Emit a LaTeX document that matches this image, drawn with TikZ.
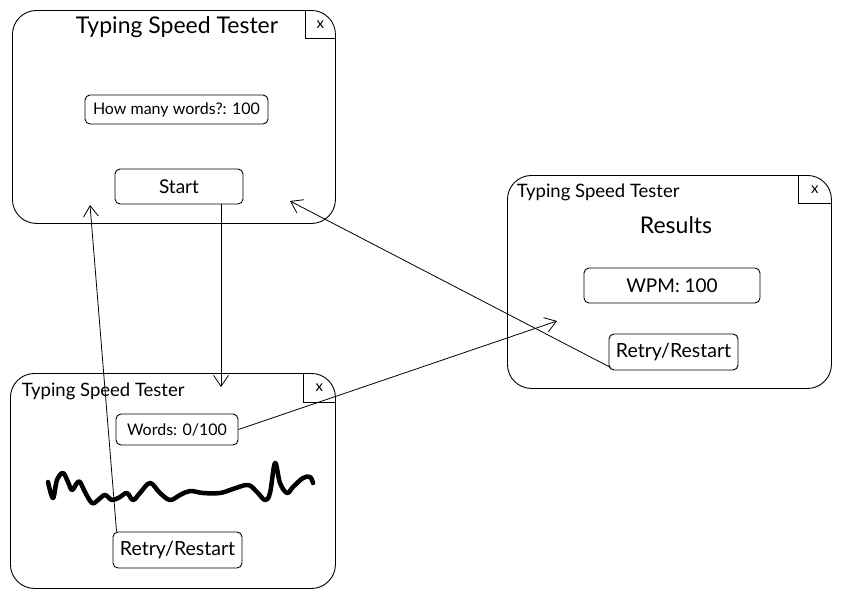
\documentclass[tikz,border=0pt]{standalone}
\usepackage{fontspec}
\setmainfont{Lato}
\usetikzlibrary{positioning,arrows.meta}

\begin{document}
\begin{tikzpicture}[x=1pt,y=-1pt,
		  line width=0.9pt,
		  win/.style={draw,rounded corners=24pt,anchor=north west,inner sep=0pt},
		  field/.style={draw,rounded corners=5pt,inner sep=0pt,font=\fontsize{16}{18}\selectfont},
		  closebox/.style={anchor=north east,inner sep=0pt,font=\fontsize{15}{17}\selectfont},
		  flow/.style={-{Straight Barb[length=11pt,width=15pt]},line width=0.8pt}
		]
		\useasboundingbox[fill=white] (0,0) rectangle (841,598);
		% windows
		\node[win,minimum width=323pt,minimum height=213pt] (winA) at (12,10) {};
		\node[win,minimum width=324pt,minimum height=213pt] (winB) at (507,175) {};
		\node[win,minimum width=325pt,minimum height=215pt] (winC) at (10,373) {};
		\node[closebox,minimum width=30pt,minimum height=28pt] (closeA) at (winA.north east) {x};
		\node[closebox,minimum width=33pt,minimum height=28pt] (closeB) at (winB.north east) {x};
		\node[closebox,minimum width=32pt,minimum height=29pt] (closeC) at (winC.north east) {x};
		\draw (closeA.north west) |- (closeA.south east);
		\draw (closeB.north west) |- (closeB.south east);
		\draw (closeC.north west) |- (closeC.south east);
		% titles
		\node[font=\fontsize{23}{25}\selectfont] (titleA) at (177,27) {Typing Speed Tester};
		\node[anchor=west,font=\fontsize{18.5}{20}\selectfont] (titleB) at (513,192) {Typing Speed Tester};
		\node[anchor=west,font=\fontsize{18.5}{20}\selectfont] (titleC) at (18,391) {Typing Speed Tester};
		\node[font=\fontsize{23}{25}\selectfont] (results) at (676,225) {Results};
		% fields and buttons
		\node[field,minimum width=183pt,minimum height=29pt] (howmany) at (176.5,109.5) {How many words?: 100};
		\node[field,minimum width=128pt,minimum height=35pt,font=\fontsize{19}{21}\selectfont] (start) at (179,186.5) {Start};
		\node[field,minimum width=176pt,minimum height=35pt,font=\fontsize{19}{21}\selectfont] (wpm) at (672,285.5) {WPM: 100};
		\node[field,minimum width=129pt,minimum height=36pt,font=\fontsize{19.5}{21}\selectfont] (retryB) at (673.5,352) {Retry/Restart};
		\node[field,minimum width=122pt,minimum height=31pt] (words) at (177,429.5) {Words: 0/100};
		\node[field,minimum width=129pt,minimum height=36pt,font=\fontsize{19.5}{21}\selectfont] (retryA) at (177.5,550) {Retry/Restart};
		% typed text scribble
		\draw[line width=4.5pt,line cap=round,line join=round] plot[smooth,tension=0.6] coordinates {
			(48,482) (53,498) (57,480) (63,473) (68,482) (72,490) (77,483) (80,482)
			(85,492) (92,503) (98,500) (105,495) (112,500) (120,497) (127,493)
			(133,500) (140,493) (150,483) (160,493) (170,500) (180,495) (190,491)
			(203,493) (220,493) (233,489) (248,485) (257,492) (265,500) (270,493)
			(275,463) (280,483) (287,493) (293,487) (303,478) (310,477) (313,483)};
		% transitions
		\coordinate (toC) at (221,387);
		\coordinate (toA1) at (90,205);
		\coordinate (toB) at (557,321);
		\coordinate (toA2) at (290,201);
		\draw[flow] (start.south -| toC) -- (toC);
		\draw[flow] ([xshift=4pt]retryA.north west) -- (toA1);
		\draw[flow] (words.east) -- (toB);
		\draw[flow] ([xshift=2pt,yshift=3pt]retryB.south west) -- (toA2);
		\end{tikzpicture}
\end{document}
